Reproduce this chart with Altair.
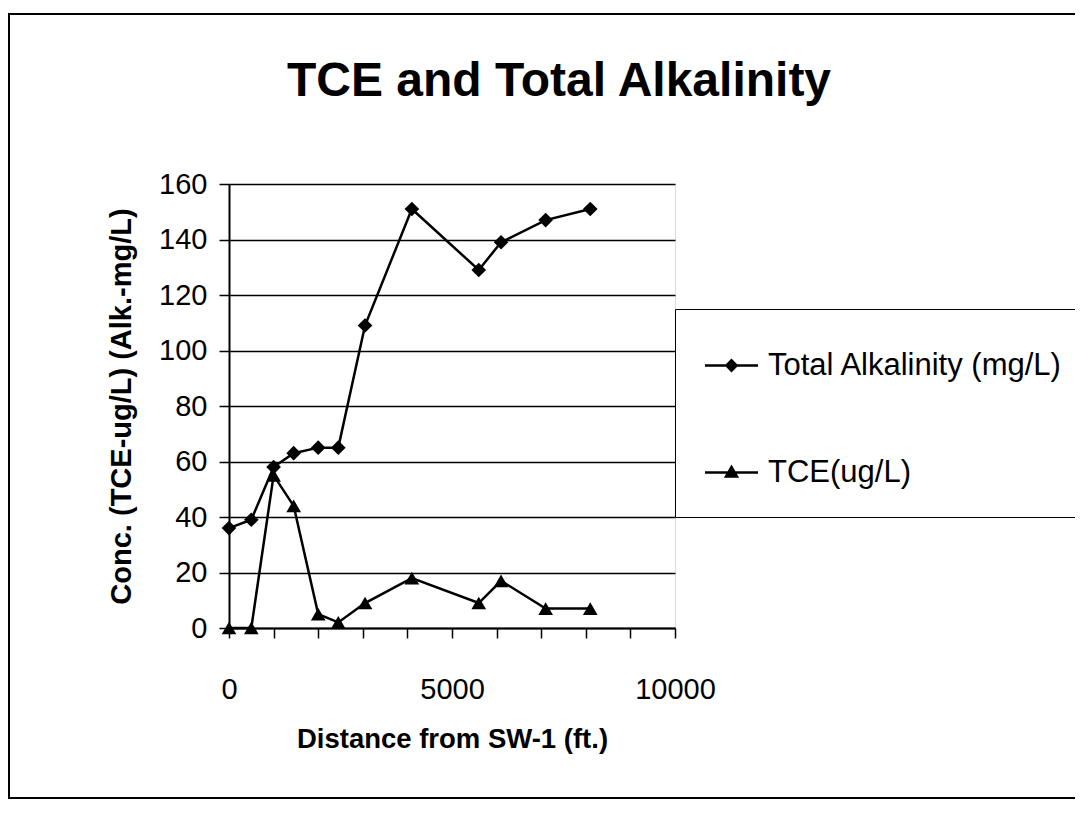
import altair as alt
import pandas as pd

# ---- data ----
distance = [0, 500, 1000, 1450, 2000, 2450, 3050, 4100, 5600, 6100, 7100, 8100]
alkalinity = [36, 39, 58, 63, 65, 65, 109, 151, 129, 139, 147, 151]
tce = [0, 0, 55, 44, 5, 2, 9, 18, 9, 17, 7, 7]
series_names = ["Total Alkalinity (mg/L)", "TCE(ug/L)"]
x_ticks = list(range(0, 10001, 1000))
y_ticks = list(range(0, 161, 20))

rows = []
for d, a in zip(distance, alkalinity):
    rows.append({"series": series_names[0], "distance": d, "value": a})
for d, t in zip(distance, tce):
    rows.append({"series": series_names[1], "distance": d, "value": t})
df = pd.DataFrame(rows)

FONT = "Liberation Sans"

x_enc = alt.X(
    "distance:Q",
    scale=alt.Scale(domain=[0, 10000], nice=False),
    axis=alt.Axis(
        values=x_ticks,
        format="d",
        labelExpr="datum.value % 5000 === 0 ? datum.label : ''",
        grid=False,
        tickSize=10,
        tickWidth=1.5,
        tickColor="black",
        domainColor="black",
        domainWidth=2,
        labelFont=FONT,
        labelFontSize=29,
        labelColor="black",
        labelPadding=37,
        labelOverlap=False,
        labelFlush=False,
        title="Distance from SW-1 (ft.)",
        titleFont=FONT,
        titleFontSize=27.5,
        titleFontWeight="bold",
        titleColor="black",
        titlePadding=21,
    ),
)
y_enc = alt.Y(
    "value:Q",
    scale=alt.Scale(domain=[0, 160], nice=False),
    axis=alt.Axis(
        values=y_ticks,
        grid=True,
        gridColor="black",
        gridWidth=1.5,
        gridOpacity=1,
        tickSize=10,
        tickWidth=1.5,
        tickColor="black",
        domainColor="black",
        domainWidth=2,
        labelFont=FONT,
        labelFontSize=29,
        labelColor="black",
        labelPadding=12,
        labelFlush=False,
        title="Conc. (TCE-ug/L) (Alk.-mg/L)",
        titleFont=FONT,
        titleFontSize=29,
        titleFontWeight="bold",
        titleColor="black",
        titlePadding=22,
    ),
)

frame = alt.Chart(pd.DataFrame({"k": [0]})).mark_rect(
    fill="white", fillOpacity=0, stroke="black", strokeWidth=2
).encode(
    x=alt.value(-220), x2=alt.value(871), y=alt.value(-170), y2=alt.value(614)
)

lines = alt.Chart(df).mark_line(color="black", strokeWidth=2.5).encode(
    x=x_enc, y=y_enc, detail="series:N"
)

points = alt.Chart(df).mark_point(
    filled=True, color="black", opacity=1, size=215
).encode(
    x=x_enc,
    y=y_enc,
    shape=alt.Shape(
        "series:N",
        scale=alt.Scale(domain=series_names, range=["diamond", "triangle-up"]),
        legend=None,
    ),
)

# legend keys: a thin bar (the line) with the marker in the middle
diamond_path = "M-1,-0.045L1,-0.045L1,0.045L-1,0.045Z M0,-0.26L0.26,0L0,0.26L-0.26,0Z"
triangle_path = "M-1,-0.045L1,-0.045L1,0.045L-1,0.045Z M0,-0.3L0.29,0.2L-0.29,0.2Z"

legend_layer = alt.Chart(df).transform_filter("datum.distance < 0").mark_point(
    filled=True, color="black", opacity=1
).encode(
    x=x_enc,
    y=y_enc,
    shape=alt.Shape(
        "series:N",
        scale=alt.Scale(domain=series_names, range=[diamond_path, triangle_path]),
        legend=alt.Legend(
            title=None,
            orient="none",
            legendX=446,
            legendY=125,
            padding=29,
            rowPadding=64,
            labelOffset=9,
            labelFont=FONT,
            labelFontSize=31,
            labelColor="black",
            labelLimit=0,
            symbolSize=2809,
            symbolFillColor="black",
            strokeColor="black",
            fillColor="white",
        ),
    ),
)

chart = (
    alt.layer(frame, lines, points, legend_layer)
    .resolve_scale(shape="independent")
    .properties(
        width=446,
        height=444,
        autosize=alt.AutoSizeParams(type="none"),
        padding={"left": 221, "top": 176, "right": 400, "bottom": 172},
        title=alt.TitleParams(
            "TCE and Total Alkalinity",
            font=FONT,
            fontSize=48,
            fontWeight="bold",
            color="black",
            anchor="start",
            frame="group",
            dx=58,
            dy=131,
            offset=0,
            baseline="alphabetic",
        ),
    )
    .configure_view(stroke="black", strokeWidth=2)
    .configure(background="white")
)

chart.save("out.html", embed_options={"renderer": "svg", "actions": False})
